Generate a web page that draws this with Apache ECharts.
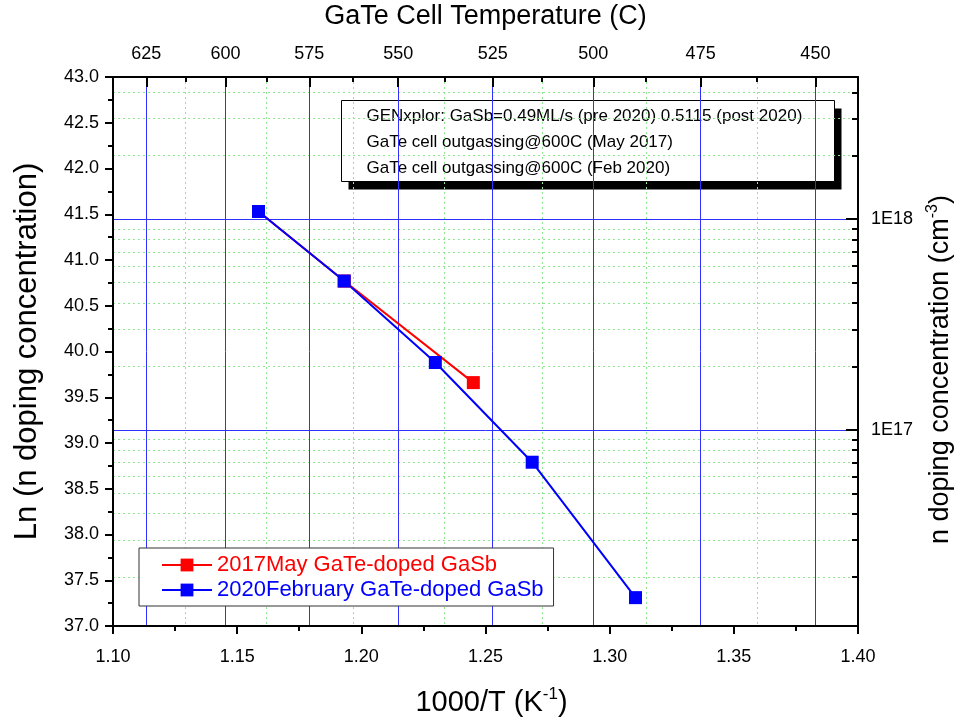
<!DOCTYPE html>
<html>
<head>
<meta charset="utf-8">
<script src="https://cdn.jsdelivr.net/npm/echarts@6/dist/echarts.min.js"></script>
<style>
  html, body { margin: 0; padding: 0; background: #fff; }
  #chart { width: 964px; height: 721px; }
</style>
</head>
<body>
<div id="chart"></div>
<script>
// Measured points: x = 1000/T (K^-1), y = ln(n)
const may2017X = [1.1586, 1.1931, 1.2451];
const may2017Y = [41.53, 40.77, 39.66];
const feb2020X = [1.1586, 1.1931, 1.2298, 1.2688, 1.3104];
const feb2020Y = [41.53, 40.77, 39.88, 38.79, 37.31];

const seriesNames = ['2017May GaTe-doped GaSb', '2020February GaTe-doped GaSb'];
const seriesColors = ['#ff0000', '#0000ff'];

// Top axis: GaTe cell temperature (°C)
const tempMajor = [625, 600, 575, 550, 525, 500, 475, 450];
const tempMinor = [612.5, 587.5, 562.5, 537.5, 512.5, 487.5, 462.5];

// Right axis: carrier concentration (cm^-3), log scale
const concMajor = [1e17, 1e18];
const concMajorLabels = ['1E17', '1E18'];
const concMinor = [2e16, 3e16, 4e16, 5e16, 6e16, 7e16, 8e16, 9e16,
                   2e17, 3e17, 4e17, 5e17, 6e17, 7e17, 8e17, 9e17,
                   2e18, 3e18, 4e18];

const noteLines = [
  'GENxplor: GaSb=0.49ML/s (pre 2020) 0.5115 (post 2020)',
  'GaTe cell outgassing@600C (May 2017)',
  'GaTe cell outgassing@600C (Feb 2020)'
];

const FONT = '"Liberation Sans", Arial, sans-serif';
const toInvT = t => 1000 / (t + 273.15);
const pairs = (xs, ys) => xs.map((x, i) => [x, ys[i]]);

const black = { color: '#000', width: 2 };
const blueGrid = { color: '#3030ff', width: 1 };
const greenGrid = { color: '#8fe88f', width: 1, type: [2, 3] };
const tickFont = { fontFamily: FONT, fontSize: 18, color: '#000' };
const supRich = size => ({
  a: { fontFamily: FONT, fontSize: size, color: '#000', lineHeight: size + 4 },
  s: { fontFamily: FONT, fontSize: Math.round(size * 0.58), color: '#000', lineHeight: size + 4,
       verticalAlign: 'top', padding: [0, 0, Math.round(size * 0.5), 0] }
});

// Invisible helper axes that only carry tick marks and dotted minor grid lines
const helperAxis = (position, values, len) => ({
  type: 'value', position: position, min: position === 'top' ? 1.1 : 37, max: position === 'top' ? 1.4 : 43,
  axisLine: { show: false },
  axisTick: { show: true, inside: true, length: len, lineStyle: black, customValues: values },
  axisLabel: { show: true, customValues: values, formatter: () => '' },
  splitLine: { show: true, lineStyle: greenGrid }
});

const chart = echarts.init(document.getElementById('chart'));

chart.setOption({
  animation: false,
  backgroundColor: '#fff',
  grid: { left: 113, right: 106, top: 77, bottom: 95, containLabel: false, outerBoundsMode: 'none' },
  xAxis: [
    {
      type: 'value', position: 'bottom', min: 1.1, max: 1.4, interval: 0.05,
      axisLine: { onZero: false, lineStyle: black },
      axisTick: { inside: false, length: 8, lineStyle: black },
      minorTick: { show: true, splitNumber: 2, length: 5, lineStyle: black },
      axisLabel: Object.assign({ margin: 22, formatter: v => v.toFixed(2) }, tickFont),
      splitLine: { show: false },
      name: '{a|1000/T (K}{s|-1}{a|)}', nameLocation: 'middle', nameGap: 60,
      nameTextStyle: { rich: supRich(29), padding: [0, 0, 0, 12] }
    },
    {
      type: 'value', position: 'top', min: 1.1, max: 1.4,
      axisLine: { onZero: false, lineStyle: black },
      axisTick: { inside: true, length: 10, lineStyle: black, customValues: tempMajor.map(toInvT) },
      axisLabel: Object.assign({
        margin: 14,
        customValues: tempMajor.map(toInvT),
        formatter: v => String(Math.round(1000 / v - 273.15))
      }, tickFont),
      splitLine: { show: true, lineStyle: blueGrid },
      name: 'GaTe Cell Temperature (C)', nameLocation: 'middle', nameGap: 47,
      nameTextStyle: { fontFamily: FONT, fontSize: 27, color: '#000' }
    },
    helperAxis('top', tempMinor.map(toInvT), 5)
  ],
  yAxis: [
    {
      type: 'value', position: 'left', min: 37, max: 43, interval: 0.5,
      axisLine: { onZero: false, lineStyle: black },
      axisTick: { inside: false, length: 8, lineStyle: black },
      minorTick: { show: true, splitNumber: 2, length: 5, lineStyle: black },
      axisLabel: Object.assign({ margin: 14, formatter: v => v.toFixed(1) }, tickFont),
      splitLine: { show: false },
      name: 'Ln (n doping concentration)', nameLocation: 'middle', nameGap: 70, nameRotate: 90,
      nameTextStyle: { fontFamily: FONT, fontSize: 31, color: '#000' }
    },
    {
      type: 'value', position: 'right', min: 37, max: 43,
      axisLine: { onZero: false, lineStyle: black },
      axisTick: { inside: true, length: 12, lineStyle: black, customValues: concMajor.map(Math.log) },
      axisLabel: Object.assign({
        margin: 13,
        customValues: concMajor.map(Math.log),
        formatter: v => {
          const i = concMajor.findIndex(c => Math.abs(Math.log(c) - v) < 1e-6);
          return i >= 0 ? concMajorLabels[i] : '';
        }
      }, tickFont),
      splitLine: { show: true, lineStyle: blueGrid },
      name: '{a|n doping concentration (cm}{s|-3}{a|)}', nameLocation: 'middle', nameGap: 67, nameRotate: 90,
      nameTextStyle: { rich: supRich(27), padding: [0, 36, 0, 0] }
    },
    helperAxis('right', concMinor.map(Math.log), 6)
  ],
  legend: {
    orient: 'vertical', left: 139, top: 548,
    padding: [6, 10, 5, 22], itemGap: 3,
    itemWidth: 50, itemHeight: 16,
    backgroundColor: '#fff', borderColor: '#333', borderWidth: 1, borderRadius: 0,
    textStyle: { fontFamily: FONT, fontSize: 22 },
    data: seriesNames.map((n, i) => ({ name: n, textStyle: { color: seriesColors[i] } }))
  },
  series: [
    {
      name: seriesNames[0], type: 'line', xAxisIndex: 0, yAxisIndex: 0,
      data: pairs(may2017X, may2017Y),
      symbol: 'rect', symbolSize: 13, showAllSymbol: true,
      lineStyle: { color: seriesColors[0], width: 2 },
      itemStyle: { color: seriesColors[0] },
      emphasis: { disabled: true }
    },
    {
      name: seriesNames[1], type: 'line', xAxisIndex: 0, yAxisIndex: 0,
      data: pairs(feb2020X, feb2020Y),
      symbol: 'rect', symbolSize: 13, showAllSymbol: true,
      lineStyle: { color: seriesColors[1], width: 2 },
      itemStyle: { color: seriesColors[1] },
      emphasis: { disabled: true }
    }
  ],
  graphic: [
    {
      type: 'group', left: 341, top: 100,
      children: [
        { type: 'rect', shape: { x: 7, y: 8, width: 493, height: 81 }, style: { fill: '#000' } },
        { type: 'rect', shape: { x: 0, y: 0, width: 493, height: 81 }, style: { fill: '#fff', stroke: '#000', lineWidth: 1 } }
      ].concat(noteLines.map((t, i) => ({
        type: 'text', x: 25, y: 16 + i * 26,
        style: { text: t, fill: '#000', font: '17px ' + FONT, verticalAlign: 'middle', align: 'left' }
      })))
    }
  ]
});
</script>
</body>
</html>
